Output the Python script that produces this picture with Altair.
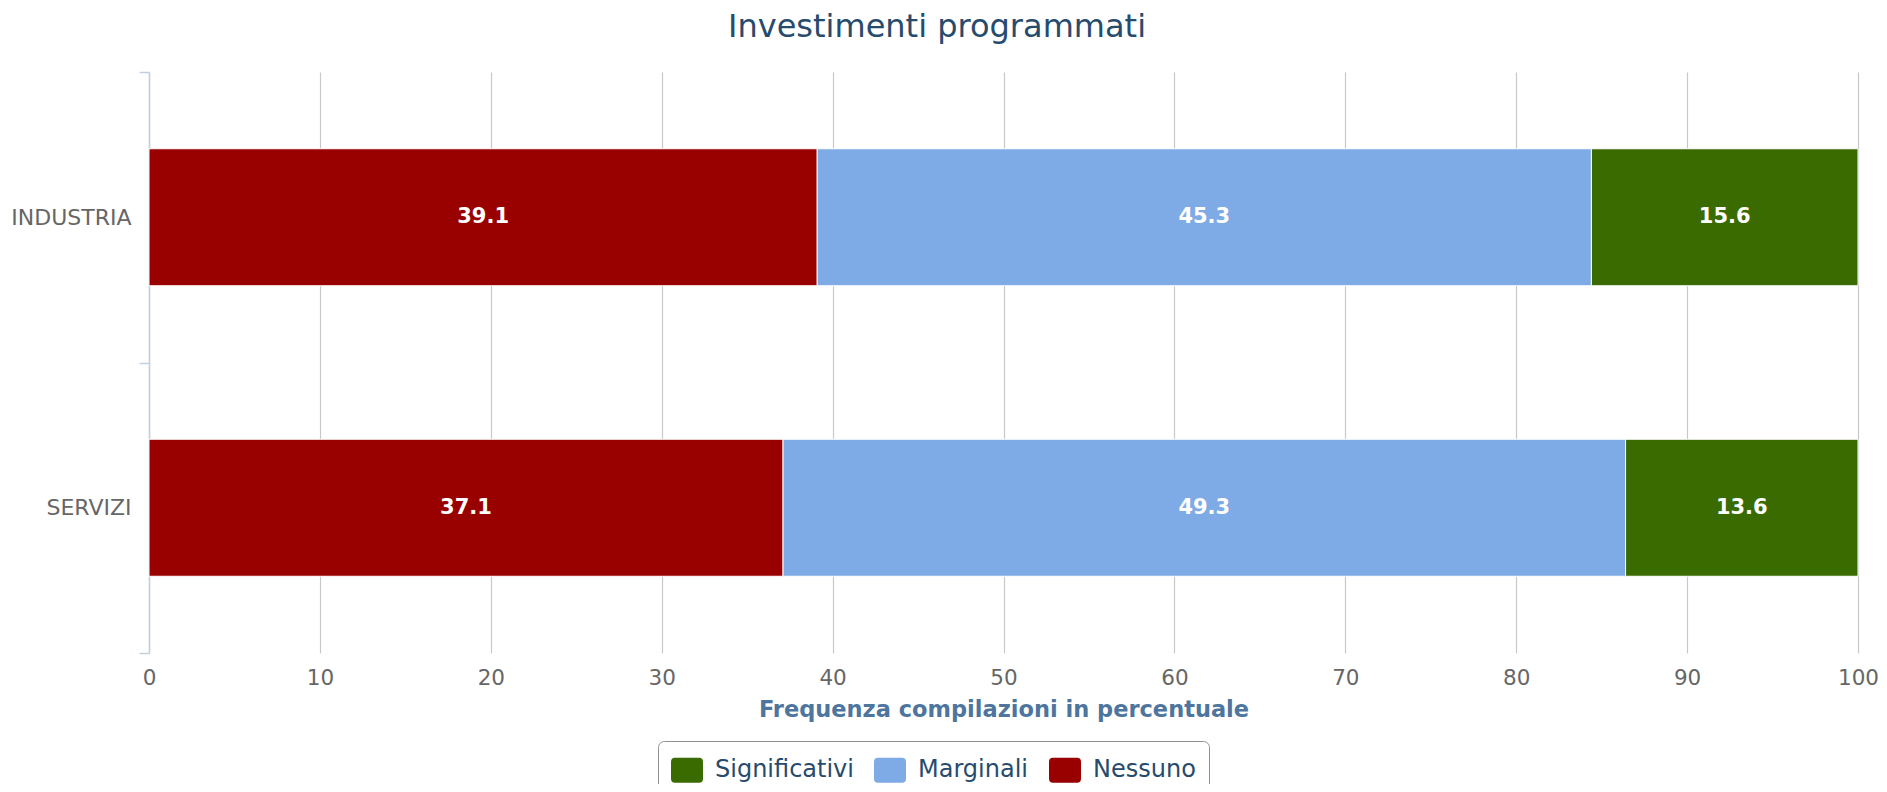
import altair as alt
import pandas as pd

settori = ["INDUSTRIA", "SERVIZI"]
categorie = ["Nessuno", "Marginali", "Significativi"]
nessuno = [39.1, 37.1]
marginali = [45.3, 49.3]
significativi = [15.6, 13.6]
legenda_ordine = ["Significativi", "Marginali", "Nessuno"]
colori = ["#396B00", "#7EAAE6", "#990000"]
x_ticks = [0, 10, 20, 30, 40, 50, 60, 70, 80, 90, 100]

serie = {"Nessuno": nessuno, "Marginali": marginali, "Significativi": significativi}
rows = []
for ci, cat in enumerate(categorie):
    for si, s in enumerate(settori):
        rows.append({"settore": s, "categoria": cat, "ordine": ci, "valore": serie[cat][si]})
df = pd.DataFrame(rows)

FONT = "DejaVu Sans"
rounded_rect = ("M -1 -0.53 Q -1 -0.78 -0.75 -0.78 L 0.75 -0.78 Q 1 -0.78 1 -0.53 "
                "L 1 0.53 Q 1 0.78 0.75 0.78 L -0.75 0.78 Q -1 0.78 -1 0.53 Z")

base = alt.Chart(df).transform_stack(
    stack="valore", groupby=["settore"], sort=[alt.SortField("ordine", "ascending")], as_=["x0", "x1"]
).transform_calculate(mid="(datum.x0 + datum.x1) / 2")

y_enc = alt.Y(
    "settore:N",
    sort=settori,
    scale=alt.Scale(domain=settori, paddingInner=0, paddingOuter=0),
    axis=alt.Axis(
        title=None, domain=True, domainColor="#C0D0E0", domainWidth=1.5,
        ticks=True, tickBand="extent", tickSize=10, tickColor="#C0D0E0", tickWidth=1.5,
        labelFont=FONT, labelFontSize=22, labelColor="#666666", labelPadding=8, grid=False,
    ),
)

bars = base.mark_bar(stroke="white", strokeWidth=1, height=137).encode(
    y=y_enc,
    x=alt.X(
        "x0:Q",
        scale=alt.Scale(domain=[0, 100], nice=False),
        axis=alt.Axis(
            values=x_ticks, title="Frequenza compilazioni in percentuale",
            titleFont=FONT, titleFontSize=22.5, titleFontWeight="bold", titleColor="#4D759E",
            titlePadding=10, labelFont=FONT, labelFontSize=21.5, labelColor="#666666",
            labelPadding=14, labelFlush=False, domain=False, ticks=False, grid=True,
            gridColor="#C8C8C8", gridWidth=1.2,
        ),
    ),
    x2="x1:Q",
    color=alt.Color(
        "categoria:N",
        scale=alt.Scale(domain=legenda_ordine, range=colori),
        legend=alt.Legend(
            title=None, orient="none", legendX=509, legendY=669, direction="horizontal",
            symbolType=rounded_rect, symbolSize=1024, symbolStrokeWidth=0,
            labelFont=FONT, labelFontSize=24, labelColor="#274B6D", labelOffset=12,
            columnPadding=20, padding=13, strokeColor="#909090", cornerRadius=6,
            labelLimit=400,
        ),
    ),
)

labels = base.mark_text(
    color="white", font=FONT, fontWeight="bold", fontSize=21, align="center", baseline="middle"
).encode(
    y=alt.Y("settore:N", sort=settori),
    x=alt.X("mid:Q"),
    text=alt.Text("valore:Q", format=".1f"),
)

chart = alt.layer(bars, labels).properties(
    width=1709,
    height=581,
    title=alt.TitleParams(
        "Investimenti programmati", font=FONT, fontSize=32, fontWeight="normal",
        color="#274B6D", anchor="middle", dx=-66.5, offset=17,
    ),
    autosize=alt.AutoSizeParams(type="none"),
    padding={"left": 141, "top": 64, "right": 21, "bottom": 131},
).configure_view(stroke=None)

chart.save("out.html", embed_options={"renderer": "svg", "actions": False})
